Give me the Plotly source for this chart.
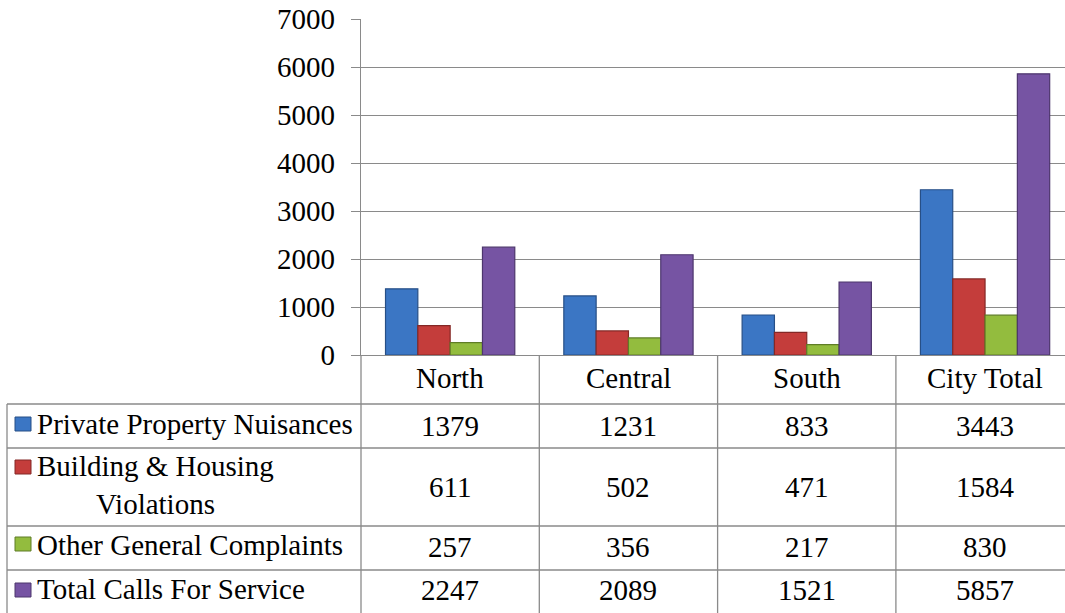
import plotly.graph_objects as go

categories = ["North", "Central", "South", "City Total"]
series_names = ["Private Property Nuisances", "Building & Housing<br>Violations",
                "Other General Complaints", "Total Calls For Service"]
private_property = [1379, 1231, 833, 3443]
building_housing = [611, 502, 471, 1584]
other_general = [257, 356, 217, 830]
total_calls = [2247, 2089, 1521, 5857]
y_ticks = [0, 1000, 2000, 3000, 4000, 5000, 6000, 7000]

series_values = [private_property, building_housing, other_general, total_calls]
colors = ["#3B76C4", "#C43D3B", "#93BC3E", "#7654A3"]
edge_colors = ["#274F86", "#842826", "#5F7D26", "#4D366D"]

W, H = 1065, 613
PL, PT, PB = 361, 19, 355
PW, PH = W - PL, PB - PT
CAT_W = 178.3

def px(x):
    return (x - PL) / PW

def py(y):
    return (PB - y) / PH

FONT = "Times New Roman, Liberation Serif, serif"
FS = 29
GRID = "#8a8a8a"

fig = go.Figure()
for name, vals, c, ec in zip(series_names, series_values, colors, edge_colors):
    fig.add_trace(go.Bar(x=categories, y=vals, name=name,
                         marker=dict(color=c, line=dict(color=ec, width=1.2))))

shapes = []
for yl in [404, 448, 526, 570]:
    shapes.append(dict(type="line", xref="paper", yref="paper",
                       x0=px(7), x1=px(W + 5), y0=py(yl), y1=py(yl),
                       line=dict(color=GRID, width=1.3)))
shapes.append(dict(type="line", xref="paper", yref="paper",
                   x0=px(7), x1=px(7), y0=py(404), y1=py(H + 5),
                   line=dict(color=GRID, width=1.3)))
for xl in [PL, PL + CAT_W, PL + 2 * CAT_W, PL + 3 * CAT_W]:
    shapes.append(dict(type="line", xref="paper", yref="paper",
                       x0=px(xl), x1=px(xl), y0=py(PB), y1=py(H + 5),
                       line=dict(color=GRID, width=1.3)))

label_centers = [424, 485, 545, 589]
value_centers = [426, 487, 547, 590]
key_centers = [424, 467, 544, 590]

annotations = []
for cat in categories:
    annotations.append(dict(x=cat, xref="x", y=py(378), yref="paper",
                            text=cat, showarrow=False,
                            font=dict(family=FONT, size=FS, color="black"),
                            xanchor="center", yanchor="middle"))
for i, (name, vals) in enumerate(zip(series_names, series_values)):
    annotations.append(dict(x=px(35), xref="paper", y=py(label_centers[i]), yref="paper",
                            text=name, showarrow=False, align="center",
                            font=dict(family=FONT, size=FS, color="black"),
                            xanchor="left", yanchor="middle"))
    shapes.append(dict(type="rect", xref="paper", yref="paper",
                       x0=px(15), x1=px(31), y0=py(key_centers[i] - 7), y1=py(key_centers[i] + 7),
                       fillcolor=colors[i], line=dict(color=edge_colors[i], width=1)))
    for cat, v in zip(categories, vals):
        annotations.append(dict(x=cat, xref="x", y=py(value_centers[i]), yref="paper",
                                text=str(v), showarrow=False,
                                font=dict(family=FONT, size=FS, color="black"),
                                xanchor="center", yanchor="middle"))

fig.update_layout(
    width=W, height=H,
    margin=dict(l=PL, r=0, t=PT, b=H - PB, pad=0),
    paper_bgcolor="white", plot_bgcolor="white",
    font=dict(family=FONT, size=FS, color="black"),
    barmode="group", bargap=0.275, bargroupgap=0,
    showlegend=False,
    shapes=shapes, annotations=annotations,
    xaxis=dict(type="category", range=[-0.5, -0.5 + PW / CAT_W],
               showticklabels=False, showgrid=False, ticks="",
               showline=True, linecolor=GRID, linewidth=1.3, zeroline=False),
    yaxis=dict(range=[0, 7000], tickvals=y_ticks, ticktext=[str(t) for t in y_ticks],
               showgrid=True, gridcolor=GRID, gridwidth=1.3,
               showline=True, linecolor=GRID, linewidth=1.3,
               ticks="outside", ticklen=9, tickcolor=GRID, tickwidth=1.3,
               ticklabelstandoff=10, zeroline=False,
               tickfont=dict(family=FONT, size=FS, color="black")),
)

fig.write_html("out.html", config={"displayModeBar": False},
               post_script="document.body.style.margin='0';document.body.style.overflow='hidden';")
